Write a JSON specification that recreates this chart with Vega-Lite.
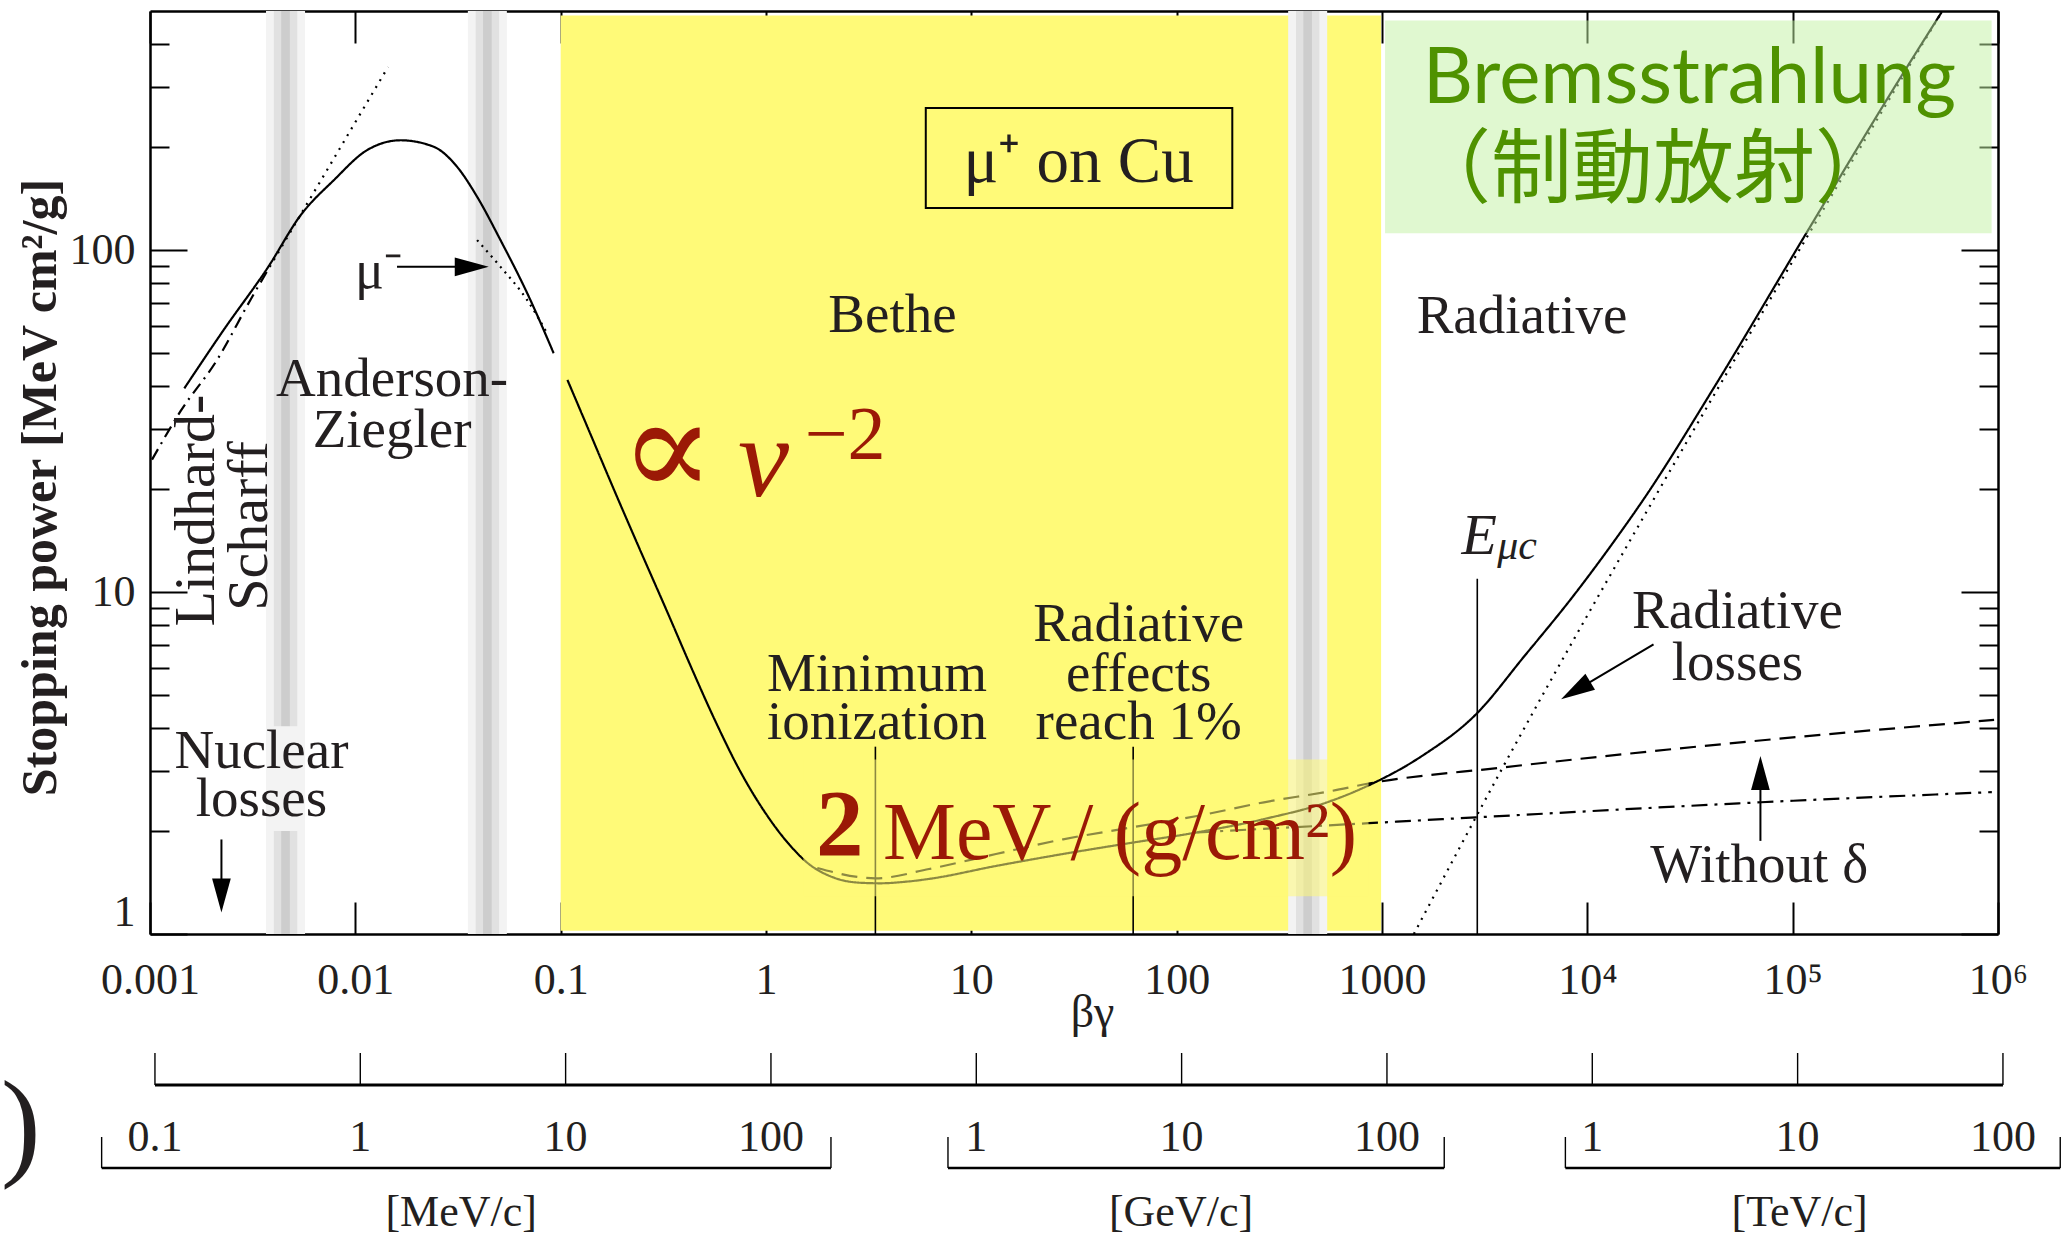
{
  "$schema": "https://vega.github.io/schema/vega-lite/v6.json",
  "background": "white",
  "padding": {"left": 0, "top": 7, "right": 0, "bottom": 0},
  "spacing": 8,
  "config": {
    "view": {"stroke": null},
    "font": "Liberation Serif",
    "text": {"font": "Liberation Serif", "color": "#231f20"},
    "axis": {
      "grid": false, "domainColor": "black", "domainWidth": 2.5,
      "tickColor": "black", "tickWidth": 2,
      "labelFont": "Liberation Serif", "labelColor": "#231f20",
      "titleFont": "Liberation Serif", "titleColor": "#231f20",
      "zindex": 1
    }
  },
  "datasets": {
    "bethe_band": [{"x1": 0.1, "x2": 990, "y1": 1.022, "y2": 485}],
    "bands": [
      {"x1": 0.003673, "x2": 0.005689, "level": "outer"},
      {"x1": 0.03532, "x2": 0.0547, "level": "outer"},
      {"x1": 349.1, "x2": 540.8, "level": "outer"},
      {"x1": 0.004009, "x2": 0.005212, "level": "mid"},
      {"x1": 0.03855, "x2": 0.05012, "level": "mid"},
      {"x1": 381.1, "x2": 495.5, "level": "mid"},
      {"x1": 0.004355, "x2": 0.004797, "level": "core"},
      {"x1": 0.04188, "x2": 0.04613, "level": "core"},
      {"x1": 414.0, "x2": 456.0, "level": "core"}
    ],
    "nuclear_patch": [{"x1": 0.003673, "x2": 0.005689, "y1": 2.0, "y2": 4.05}],
    "target_box": [{"x1": 6.0, "x2": 186.6, "y1": 132.7, "y2": 260}],
    "markers": [
      {"name": "min_ionization", "x": 3.41, "y1": 1, "y2": 3.53},
      {"name": "radiative_1pct", "x": 61.4, "y1": 1, "y2": 3.53},
      {"name": "E_muc", "x": 2911, "y1": 1, "y2": 10.93}
    ],
    "curves": [
      {"series": "total_low", "bg": 0.001469, "sp": 39.4},
      {"series": "total_low", "bg": 0.00228, "sp": 58.3},
      {"series": "total_low", "bg": 0.003767, "sp": 89.3},
      {"series": "total_low", "bg": 0.00542, "sp": 126.5},
      {"series": "total_low", "bg": 0.007852, "sp": 160.0},
      {"series": "total_low", "bg": 0.0114, "sp": 195.9},
      {"series": "total_low", "bg": 0.0166, "sp": 209.4},
      {"series": "total_low", "bg": 0.0241, "sp": 200.4},
      {"series": "total_low", "bg": 0.03133, "sp": 175.0},
      {"series": "total_low", "bg": 0.03917, "sp": 143.2},
      {"series": "total_low", "bg": 0.05093, "sp": 106.9},
      {"series": "total_low", "bg": 0.06871, "sp": 74.8},
      {"series": "total_low", "bg": 0.09247, "sp": 49.9},
      {"series": "total", "bg": 0.1079, "sp": 41.7},
      {"series": "total", "bg": 0.1396, "sp": 28.97},
      {"series": "total", "bg": 0.1816, "sp": 19.95},
      {"series": "total", "bg": 0.2449, "sp": 13.18},
      {"series": "total", "bg": 0.3304, "sp": 8.75},
      {"series": "total", "bg": 0.4285, "sp": 6.095},
      {"series": "total", "bg": 0.5572, "sp": 4.285},
      {"series": "total", "bg": 0.7516, "sp": 2.979},
      {"series": "total", "bg": 1.014, "sp": 2.218},
      {"series": "total", "bg": 1.365, "sp": 1.766},
      {"series": "total", "bg": 1.585, "sp": 1.618},
      {"series": "total", "bg": 2.138, "sp": 1.462},
      {"series": "total", "bg": 2.884, "sp": 1.412},
      {"series": "total", "bg": 3.6, "sp": 1.407},
      {"series": "total", "bg": 4.8, "sp": 1.422},
      {"series": "total", "bg": 6.223, "sp": 1.449},
      {"series": "total", "bg": 13.18, "sp": 1.581},
      {"series": "total", "bg": 27.99, "sp": 1.714},
      {"series": "total", "bg": 59.29, "sp": 1.845},
      {"series": "total", "bg": 125.6, "sp": 1.982},
      {"series": "total", "bg": 266.1, "sp": 2.168},
      {"series": "total", "bg": 563.6, "sp": 2.449},
      {"series": "total", "bg": 871.0, "sp": 2.729},
      {"series": "total", "bg": 1570, "sp": 3.319},
      {"series": "total", "bg": 2864, "sp": 4.385},
      {"series": "total", "bg": 4943, "sp": 6.501},
      {"series": "total", "bg": 8531, "sp": 9.727},
      {"series": "total", "bg": 13183, "sp": 13.8},
      {"series": "total", "bg": 18836, "sp": 18.71},
      {"series": "total", "bg": 41591, "sp": 39.81},
      {"series": "total", "bg": 115345, "sp": 110.9},
      {"series": "total", "bg": 319890, "sp": 305.5},
      {"series": "total", "bg": 532107, "sp": 496.6},
      {"series": "lindhard_scharff", "bg": 0.001023, "sp": 24.38},
      {"series": "lindhard_scharff", "bg": 0.001406, "sp": 33.73},
      {"series": "lindhard_scharff", "bg": 0.002123, "sp": 47.75},
      {"series": "lindhard_scharff", "bg": 0.003083, "sp": 71.45},
      {"series": "lindhard_scharff", "bg": 0.004009, "sp": 93.54},
      {"series": "lindhard_ext", "bg": 0.004009, "sp": 93.54},
      {"series": "lindhard_ext", "bg": 0.01442, "sp": 342.8},
      {"series": "mu_minus", "bg": 0.03917, "sp": 106.9},
      {"series": "mu_minus", "bg": 0.05093, "sp": 89.3},
      {"series": "mu_minus", "bg": 0.06871, "sp": 71.4},
      {"series": "mu_minus", "bg": 0.0859, "sp": 57.1},
      {"series": "radiative", "bg": 1429, "sp": 1.0},
      {"series": "radiative", "bg": 3873, "sp": 3.069},
      {"series": "radiative", "bg": 20990, "sp": 18.62},
      {"series": "radiative", "bg": 115345, "sp": 107.2},
      {"series": "radiative", "bg": 524807, "sp": 489.8},
      {"series": "no_radiative", "bg": 1.778, "sp": 1.56},
      {"series": "no_radiative", "bg": 3.412, "sp": 1.455},
      {"series": "no_radiative", "bg": 6.223, "sp": 1.549},
      {"series": "no_radiative", "bg": 13.18, "sp": 1.714},
      {"series": "no_radiative", "bg": 27.99, "sp": 1.892},
      {"series": "no_radiative", "bg": 59.29, "sp": 2.046},
      {"series": "no_radiative", "bg": 125.6, "sp": 2.213},
      {"series": "no_radiative", "bg": 266.1, "sp": 2.427},
      {"series": "no_radiative", "bg": 563.6, "sp": 2.618},
      {"series": "no_radiative", "bg": 861.0, "sp": 2.754},
      {"series": "no_radiative", "bg": 3873, "sp": 3.069},
      {"series": "no_radiative", "bg": 64269, "sp": 3.664},
      {"series": "no_radiative", "bg": 957194, "sp": 4.227},
      {"series": "density", "bg": 125.9, "sp": 1.982},
      {"series": "density", "bg": 863, "sp": 2.109},
      {"series": "density", "bg": 2864, "sp": 2.193},
      {"series": "density", "bg": 54580, "sp": 2.41},
      {"series": "density", "bg": 933254, "sp": 2.6}
    ],
    "arrows": [
      {"x": 0.01596, "y": 89.3, "x2": 0.0369, "y2": 89.3},
      {"x": 0.002228, "y": 1.89, "x2": 0.002228, "y2": 1.297},
      {"x": 21010, "y": 7.03, "x2": 8770, "y2": 5.15},
      {"x": 69660, "y": 1.872, "x2": 69660, "y2": 2.958}
    ],
    "heads": [
      {"x": 0.0369, "y": 89.3, "dir": "right"},
      {"x": 0.002228, "y": 1.297, "dir": "down"},
      {"x": 8770, "y": 5.15, "dir": "downleft"},
      {"x": 69660, "y": 2.958, "dir": "up"}
    ],
    "text_overlay": [{"x1": 1.52, "x2": 860, "y1": 1.29, "y2": 3.24}],
    "brems_box": [{"x1": 1035, "x2": 931000, "y1": 112, "y2": 469}],
    "notes": [
      {"x": 0.0151, "y": 42.0, "text": "Anderson-"},
      {"x": 0.0151, "y": 29.8, "text": "Ziegler"},
      {"x": 0.00349, "y": 3.42, "text": "Nuclear"},
      {"x": 0.00349, "y": 2.49, "text": "losses"},
      {"x": 4.13, "y": 64.6, "text": "Bethe"},
      {"x": 3.47, "y": 5.76, "text": "Minimum"},
      {"x": 3.47, "y": 4.18, "text": "ionization"},
      {"x": 65.3, "y": 8.04, "text": "Radiative"},
      {"x": 65.3, "y": 5.74, "text": "effects"},
      {"x": 65.3, "y": 4.18, "text": "reach 1%"},
      {"x": 4808, "y": 64.1, "text": "Radiative"},
      {"x": 53830, "y": 8.79, "text": "Radiative"},
      {"x": 53830, "y": 6.18, "text": "losses"},
      {"x": 68710, "y": 1.59, "text": "Without δ"}
    ],
    "notes_vertical": [
      {"x": 0.001694, "y": 17.3, "text": "Lindhard-"},
      {"x": 0.003083, "y": 15.6, "text": "Scharff"}
    ],
    "annotations": [
      {"id": "target", "x": 33.27, "y": 180.7, "text": "μ⁺ on Cu"},
      {"id": "mu_minus", "x": 0.01297, "y": 86.4, "text": "μ⁻"},
      {"id": "E", "x": 2979, "y": 14.5, "text": "E"},
      {"id": "E_sub", "x": 4550, "y": 13.6, "text": "μc"},
      {"id": "propto", "x": 0.3311, "y": 25.4, "text": "∝"},
      {"id": "v", "x": 0.9727, "y": 24.2, "text": "v"},
      {"id": "v_exp", "x": 2.43, "y": 28.6, "text": "−2"},
      {"id": "two", "x": 2.286, "y": 2.049, "text": "2"},
      {"id": "mev_unit", "x": 52.97, "y": 1.959, "text": "MeV / (g/cm²)"},
      {"id": "brems", "x": 31410, "y": 313.5, "text": "Bremsstrahlung"},
      {"id": "brems_ja", "x": 20890, "y": 169.3, "text": "（制動放射）"}
    ],
    "pscale": [{"x": 0.001, "x2": 1000000}],
    "pticks": [{"x": 0.001}, {"x": 0.01}, {"x": 0.1}, {"x": 1}, {"x": 10}, {"x": 100}, {"x": 1000}, {"x": 10000}, {"x": 100000}, {"x": 1000000}],
    "brackets": [
      {"unit": "[MeV/c]", "x": 0.00055, "x2": 1.96, "xc": 0.031},
      {"unit": "[GeV/c]", "x": 7.28, "x2": 1901, "xc": 99.3},
      {"unit": "[TeV/c]", "x": 7396, "x2": 1901000, "xc": 102300}
    ],
    "plabels": [
      {"x": 0.001, "text": "0.1"}, {"x": 0.01, "text": "1"}, {"x": 0.1, "text": "10"}, {"x": 1, "text": "100"},
      {"x": 10, "text": "1"}, {"x": 100, "text": "10"}, {"x": 1000, "text": "100"},
      {"x": 10000, "text": "1"}, {"x": 100000, "text": "10"}, {"x": 1000000, "text": "100"}
    ],
    "paren": [{"x": 0.000222, "y": 85, "text": ")"}]
  },
  "vconcat": [
    {
      "width": 1848,
      "height": 923,
      "resolve": {"axis": {"x": "independent", "y": "independent"}},
      "layer": [
        {
          "layer": [
            {
              "data": {"name": "bethe_band"},
              "mark": {"type": "rect", "color": "#fffa78"},
              "encoding": {
                "x": {
                  "field": "x1", "type": "quantitative",
                  "scale": {"type": "log", "domain": [0.001, 1000000], "nice": false},
                  "axis": {
                    "orient": "bottom", "title": "βγ",
                    "values": [0.001, 0.01, 0.1, 1, 10, 100, 1000, 10000, 100000, 1000000],
                    "labelExpr": "datum.value >= 10000 ? '10' + (datum.value >= 1000000 ? '⁶' : datum.value >= 100000 ? '⁵' : '⁴') : format(datum.value, '~g')",
                    "labelFontSize": 44, "labelFlush": false, "labelOverlap": false,
                    "tickSize": -32, "labelPadding": 56,
                    "titleFontSize": 46, "titleFontWeight": "normal", "titlePadding": -12, "titleX": 942
                  }
                },
                "x2": {"field": "x2"},
                "y": {
                  "field": "y1", "type": "quantitative",
                  "scale": {"type": "log", "domain": [1, 500], "nice": false},
                  "axis": {
                    "orient": "left", "title": "Stopping power [MeV cm²/g]",
                    "values": [1, 2, 3, 4, 5, 6, 7, 8, 9, 10, 20, 30, 40, 50, 60, 70, 80, 90, 100, 200, 300, 400],
                    "labelExpr": "datum.value == 1 || datum.value == 10 || datum.value == 100 ? format(datum.value, 'd') : ''",
                    "labelFontSize": 44, "labelFlush": true, "labelOverlap": false,
                    "tickSize": {"condition": {"test": "datum.value == 1 || datum.value == 10 || datum.value == 100", "value": -37}, "value": -19},
                    "labelPadding": 52,
                    "titleFontSize": 50, "titleFontWeight": "bold", "titlePadding": 4, "titleY": 476
                  }
                },
                "y2": {"field": "y2"}
              }
            },
            {
              "data": {"name": "bands"},
              "mark": {"type": "rect"},
              "encoding": {
                "x": {"field": "x1", "type": "quantitative"},
                "x2": {"field": "x2"},
                "y": {"datum": 1},
                "y2": {"datum": 500},
                "color": {"field": "level", "type": "nominal", "scale": {"domain": ["outer", "mid", "core"], "range": ["#f3f3f3", "#e1e1e1", "#cdcdcd"]}, "legend": null}
              }
            },
            {
              "data": {"name": "nuclear_patch"},
              "mark": {"type": "rect", "color": "#f3f3f3"},
              "encoding": {
                "x": {"field": "x1", "type": "quantitative"},
                "x2": {"field": "x2"},
                "y": {"field": "y1", "type": "quantitative"},
                "y2": {"field": "y2"}
              }
            },
            {
              "data": {"name": "target_box"},
              "mark": {"type": "rect", "fill": "transparent", "stroke": "black", "strokeWidth": 2},
              "encoding": {
                "x": {"field": "x1", "type": "quantitative"},
                "x2": {"field": "x2"},
                "y": {"field": "y1", "type": "quantitative"},
                "y2": {"field": "y2"}
              }
            },
            {
              "data": {"name": "markers"},
              "mark": {"type": "rule", "color": "black", "strokeWidth": 1.6},
              "encoding": {
                "x": {"field": "x", "type": "quantitative"},
                "y": {"field": "y1", "type": "quantitative"},
                "y2": {"field": "y2"}
              }
            },
            {
              "data": {"name": "curves"},
              "mark": {"type": "line", "color": "black", "strokeWidth": 2.2, "interpolate": "monotone"},
              "encoding": {
                "x": {"field": "bg", "type": "quantitative"},
                "y": {"field": "sp", "type": "quantitative"},
                "strokeDash": {
                  "field": "series", "type": "nominal", "legend": null,
                  "scale": {
                    "domain": ["total_low", "total", "lindhard_scharff", "lindhard_ext", "mu_minus", "radiative", "no_radiative", "density"],
                    "range": [[1, 0], [1, 0], [12, 6, 2, 6], [2, 6], [2, 5], [2, 6], [16, 9], [16, 7, 3, 7]]
                  }
                }
              }
            },
            {
              "data": {"name": "arrows"},
              "mark": {"type": "rule", "color": "black", "strokeWidth": 2},
              "encoding": {
                "x": {"field": "x", "type": "quantitative"},
                "x2": {"field": "x2"},
                "y": {"field": "y", "type": "quantitative"},
                "y2": {"field": "y2"}
              }
            },
            {
              "data": {"name": "heads"},
              "mark": {"type": "point", "filled": true, "color": "black", "opacity": 1, "size": 1156},
              "encoding": {
                "x": {"field": "x", "type": "quantitative"},
                "y": {"field": "y", "type": "quantitative"},
                "shape": {
                  "field": "dir", "type": "nominal", "legend": null,
                  "scale": {
                    "domain": ["up", "right", "down", "downleft"],
                    "range": ["M0,-1L0.55,1L-0.55,1Z", "M1,0L-1,0.55L-1,-0.55Z", "M0,1L0.55,-1L-0.55,-1Z", "M-0.857,0.515L0.574,-0.986L1.14,-0.044Z"]
                  }
                }
              }
            },
            {
              "data": {"name": "text_overlay"},
              "mark": {"type": "rect", "color": "#fffa78", "opacity": 0.55},
              "encoding": {
                "x": {"field": "x1", "type": "quantitative"},
                "x2": {"field": "x2"},
                "y": {"field": "y1", "type": "quantitative"},
                "y2": {"field": "y2"}
              }
            },
            {
              "data": {"name": "brems_box"},
              "mark": {"type": "rect", "color": "#c1f1a1", "opacity": 0.5},
              "encoding": {
                "x": {"field": "x1", "type": "quantitative"},
                "x2": {"field": "x2"},
                "y": {"field": "y1", "type": "quantitative"},
                "y2": {"field": "y2"}
              }
            },
            {
              "data": {"name": "notes"},
              "mark": {"type": "text", "fontSize": 55, "align": "center", "baseline": "middle"},
              "encoding": {
                "x": {"field": "x", "type": "quantitative"},
                "y": {"field": "y", "type": "quantitative"},
                "text": {"field": "text"}
              }
            },
            {
              "data": {"name": "notes_vertical"},
              "mark": {"type": "text", "fontSize": 58, "angle": 270, "align": "center", "baseline": "middle"},
              "encoding": {
                "x": {"field": "x", "type": "quantitative"},
                "y": {"field": "y", "type": "quantitative"},
                "text": {"field": "text"}
              }
            },
            {
              "data": {"name": "annotations"},
              "transform": [{"filter": "datum.id == 'target'"}],
              "mark": {"type": "text", "fontSize": 65, "align": "center", "baseline": "middle"},
              "encoding": {"x": {"field": "x", "type": "quantitative"}, "y": {"field": "y", "type": "quantitative"}, "text": {"field": "text"}}
            },
            {
              "data": {"name": "annotations"},
              "transform": [{"filter": "datum.id == 'mu_minus'"}],
              "mark": {"type": "text", "fontSize": 54, "align": "center", "baseline": "middle"},
              "encoding": {"x": {"field": "x", "type": "quantitative"}, "y": {"field": "y", "type": "quantitative"}, "text": {"field": "text"}}
            },
            {
              "data": {"name": "annotations"},
              "transform": [{"filter": "datum.id == 'E'"}],
              "mark": {"type": "text", "fontSize": 58, "fontStyle": "italic", "align": "center", "baseline": "middle"},
              "encoding": {"x": {"field": "x", "type": "quantitative"}, "y": {"field": "y", "type": "quantitative"}, "text": {"field": "text"}}
            },
            {
              "data": {"name": "annotations"},
              "transform": [{"filter": "datum.id == 'E_sub'"}],
              "mark": {"type": "text", "fontSize": 42, "fontStyle": "italic", "align": "center", "baseline": "middle"},
              "encoding": {"x": {"field": "x", "type": "quantitative"}, "y": {"field": "y", "type": "quantitative"}, "text": {"field": "text"}}
            },
            {
              "data": {"name": "annotations"},
              "transform": [{"filter": "datum.id == 'propto'"}],
              "mark": {"type": "text", "font": "DejaVu Sans ExtraLight, DejaVu Serif", "fontSize": 140, "color": "#9b1906", "align": "center", "baseline": "middle"},
              "encoding": {"x": {"field": "x", "type": "quantitative"}, "y": {"field": "y", "type": "quantitative"}, "text": {"field": "text"}}
            },
            {
              "data": {"name": "annotations"},
              "transform": [{"filter": "datum.id == 'v'"}],
              "mark": {"type": "text", "fontSize": 115, "fontStyle": "italic", "color": "#9b1906", "align": "center", "baseline": "middle"},
              "encoding": {"x": {"field": "x", "type": "quantitative"}, "y": {"field": "y", "type": "quantitative"}, "text": {"field": "text"}}
            },
            {
              "data": {"name": "annotations"},
              "transform": [{"filter": "datum.id == 'v_exp'"}],
              "mark": {"type": "text", "fontSize": 76, "color": "#9b1906", "align": "center", "baseline": "middle"},
              "encoding": {"x": {"field": "x", "type": "quantitative"}, "y": {"field": "y", "type": "quantitative"}, "text": {"field": "text"}}
            },
            {
              "data": {"name": "annotations"},
              "transform": [{"filter": "datum.id == 'two'"}],
              "mark": {"type": "text", "fontSize": 95, "fontWeight": "bold", "color": "#9b1906", "align": "center", "baseline": "middle"},
              "encoding": {"x": {"field": "x", "type": "quantitative"}, "y": {"field": "y", "type": "quantitative"}, "text": {"field": "text"}}
            },
            {
              "data": {"name": "annotations"},
              "transform": [{"filter": "datum.id == 'mev_unit'"}],
              "mark": {"type": "text", "fontSize": 82, "color": "#9b1906", "align": "center", "baseline": "middle"},
              "encoding": {"x": {"field": "x", "type": "quantitative"}, "y": {"field": "y", "type": "quantitative"}, "text": {"field": "text"}}
            },
            {
              "data": {"name": "annotations"},
              "transform": [{"filter": "datum.id == 'brems'"}],
              "mark": {"type": "text", "font": "Lato", "fontSize": 78, "color": "#4f9200", "align": "center", "baseline": "middle"},
              "encoding": {"x": {"field": "x", "type": "quantitative"}, "y": {"field": "y", "type": "quantitative"}, "text": {"field": "text"}}
            },
            {
              "data": {"name": "annotations"},
              "transform": [{"filter": "datum.id == 'brems_ja'"}],
              "mark": {"type": "text", "font": "Noto Sans CJK JP", "fontSize": 81, "color": "#4f9200", "align": "center", "baseline": "middle"},
              "encoding": {"x": {"field": "x", "type": "quantitative"}, "y": {"field": "y", "type": "quantitative"}, "text": {"field": "text"}}
            }
          ]
        },
        {
          "data": {"name": "bethe_band"},
          "mark": {"type": "point", "opacity": 0},
          "encoding": {
            "x": {
              "field": "x1", "type": "quantitative",
              "axis": {"orient": "top", "title": null, "labels": false, "values": [0.001, 0.01, 0.1, 1, 10, 100, 1000, 10000, 100000, 1000000], "tickSize": -32}
            },
            "y": {
              "field": "y1", "type": "quantitative",
              "axis": {
                "orient": "right", "title": null, "labels": false,
                "values": [1, 2, 3, 4, 5, 6, 7, 8, 9, 10, 20, 30, 40, 50, 60, 70, 80, 90, 100, 200, 300, 400],
                "tickSize": {"condition": {"test": "datum.value == 1 || datum.value == 10 || datum.value == 100", "value": -37}, "value": -19}
              }
            }
          }
        }
      ]
    },
    {
      "width": 1848,
      "height": 200,
      "layer": [
        {
          "data": {"name": "pscale"},
          "mark": {"type": "rule", "color": "black", "strokeWidth": 3},
          "encoding": {
            "x": {"field": "x", "type": "quantitative", "scale": {"type": "log", "domain": [0.000946, 946000], "nice": false}, "axis": null},
            "x2": {"field": "x2"},
            "y": {"datum": 42, "type": "quantitative", "scale": {"domain": [0, 200], "reverse": true, "nice": false, "zero": false}, "axis": null}
          }
        },
        {
          "data": {"name": "pticks"},
          "mark": {"type": "rule", "color": "black", "strokeWidth": 1.4},
          "encoding": {
            "x": {"field": "x", "type": "quantitative"},
            "y": {"datum": 10},
            "y2": {"datum": 42}
          }
        },
        {
          "data": {"name": "brackets"},
          "mark": {"type": "rule", "color": "black", "strokeWidth": 2.5},
          "encoding": {
            "x": {"field": "x", "type": "quantitative"},
            "x2": {"field": "x2"},
            "y": {"datum": 125}
          }
        },
        {
          "data": {"name": "brackets"},
          "mark": {"type": "rule", "color": "black", "strokeWidth": 1.4},
          "encoding": {
            "x": {"field": "x", "type": "quantitative"},
            "y": {"datum": 94},
            "y2": {"datum": 125}
          }
        },
        {
          "data": {"name": "brackets"},
          "mark": {"type": "rule", "color": "black", "strokeWidth": 1.4},
          "encoding": {
            "x": {"field": "x2", "type": "quantitative"},
            "y": {"datum": 94},
            "y2": {"datum": 125}
          }
        },
        {
          "data": {"name": "plabels"},
          "mark": {"type": "text", "fontSize": 44, "align": "center", "baseline": "middle"},
          "encoding": {
            "x": {"field": "x", "type": "quantitative"},
            "y": {"datum": 95},
            "text": {"field": "text"}
          }
        },
        {
          "data": {"name": "brackets"},
          "mark": {"type": "text", "fontSize": 44, "align": "center", "baseline": "middle"},
          "encoding": {
            "x": {"field": "xc", "type": "quantitative"},
            "y": {"datum": 170},
            "text": {"field": "unit"}
          }
        },
        {
          "data": {"name": "paren"},
          "mark": {"type": "text", "fontSize": 120, "align": "center", "baseline": "middle"},
          "encoding": {
            "x": {"field": "x", "type": "quantitative"},
            "y": {"field": "y", "type": "quantitative"},
            "text": {"field": "text"}
          }
        }
      ]
    }
  ]
}
